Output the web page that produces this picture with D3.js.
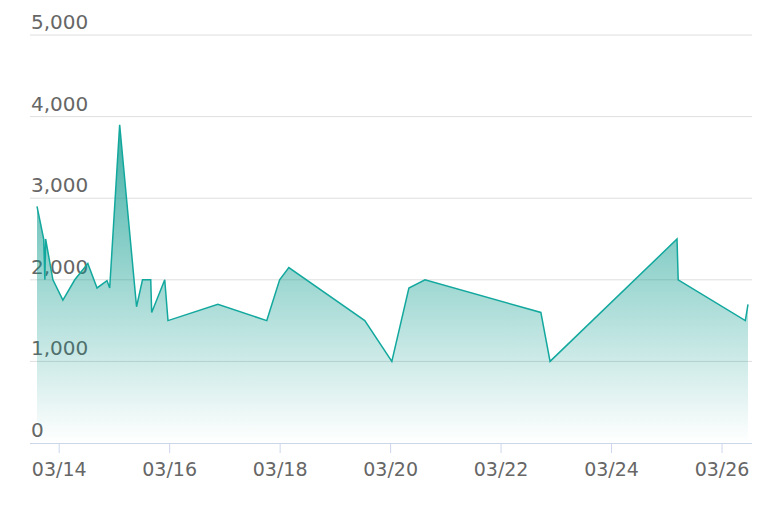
<!DOCTYPE html>
<html><head><meta charset="utf-8">
<script src="https://cdn.jsdelivr.net/npm/d3@7"></script>
<style>body{margin:0;background:#fff}svg{display:block;font-family:"DejaVu Sans",sans-serif}</style>
</head><body><div id="chart"></div>
<script>
const times = ["2024-03-13T14:35","2024-03-13T17:30","2024-03-13T18:00","2024-03-13T18:20","2024-03-13T21:30",
  "2024-03-14T01:50","2024-03-14T07:00","2024-03-14T12:40","2024-03-14T16:40","2024-03-14T21:00","2024-03-14T22:10",
  "2024-03-15T02:30","2024-03-15T09:50","2024-03-15T12:25","2024-03-15T16:00","2024-03-15T16:25","2024-03-15T22:05","2024-03-15T23:30",
  "2024-03-16T21:10","2024-03-17T18:25","2024-03-18T00:00","2024-03-18T04:00","2024-03-19T13:00",
  "2024-03-20T00:45","2024-03-20T08:10","2024-03-20T15:10","2024-03-22T17:30","2024-03-22T21:30",
  "2024-03-25T04:40","2024-03-25T05:10","2024-03-26T10:20","2024-03-26T11:30"];
const values = [2900,2500,2000,2500,2000,1750,2000,2200,1900,1990,1900,3900,1670,2000,2000,1600,2000,1500,
  1700,1500,2000,2150,1500,1000,1900,2000,1600,1000,2500,2000,1500,1700];
const yTicks = [0,1000,2000,3000,4000,5000];
const xTicks = ["2024-03-14","2024-03-16","2024-03-18","2024-03-20","2024-03-22","2024-03-24","2024-03-26"];

const parse = d3.timeParse("%Y-%m-%dT%H:%M");
const data = times.map((t, i) => ({date: parse(t), value: values[i]}));

const width = 774, height = 510;
const svg = d3.select("#chart").append("svg").attr("width", width).attr("height", height);

const x = d3.scaleTime().domain(d3.extent(data, d => d.date)).range([37, 748]);
const y = d3.scaleLinear().domain([0, 5000]).range([443, 35]);

const grad = svg.append("defs").append("linearGradient")
    .attr("id", "fill").attr("x1", 0).attr("y1", 0).attr("x2", 0).attr("y2", 1);
grad.append("stop").attr("offset", "0%").attr("stop-color", "#009688").attr("stop-opacity", 0.75);
grad.append("stop").attr("offset", "100%").attr("stop-color", "#009688").attr("stop-opacity", 0);

// gridlines + y labels
svg.append("g").selectAll("line").data(yTicks.slice(1)).enter().append("line")
    .attr("x1", 30).attr("x2", 752).attr("y1", d => y(d)).attr("y2", d => y(d))
    .attr("stroke", "#dedede");
svg.append("g").selectAll("text").data(yTicks).enter().append("text")
    .attr("x", 31).attr("y", d => y(d) - 6)
    .attr("fill", "#666").style("font-size", "20px")
    .text(d => d3.format(",")(d));

const area = d3.area().x(d => x(d.date)).y0(y(0)).y1(d => y(d.value));
const line = d3.line().x(d => x(d.date)).y(d => y(d.value));

svg.append("path").datum(data).attr("d", area).attr("fill", "url(#fill)");
svg.append("path").datum(data).attr("d", line)
    .attr("fill", "none").attr("stroke", "#13a89e").attr("stroke-width", 1.5);

// x axis
const xAxis = svg.append("g").attr("transform", `translate(0,${y(0)})`)
    .call(d3.axisBottom(x).tickValues(xTicks.map(d3.timeParse("%Y-%m-%d")))
        .tickFormat(d3.timeFormat("%m/%d")).tickSize(10).tickSizeOuter(0).tickPadding(10));
xAxis.select(".domain").attr("stroke", "#ccd6eb").attr("d", "M30,0.5H752");
xAxis.selectAll(".tick line").attr("stroke", "#ccd6eb");
xAxis.selectAll("text").attr("fill", "#666").style("font-size", "19px")
    .style("font-family", "DejaVu Sans, sans-serif");
</script></body></html>
